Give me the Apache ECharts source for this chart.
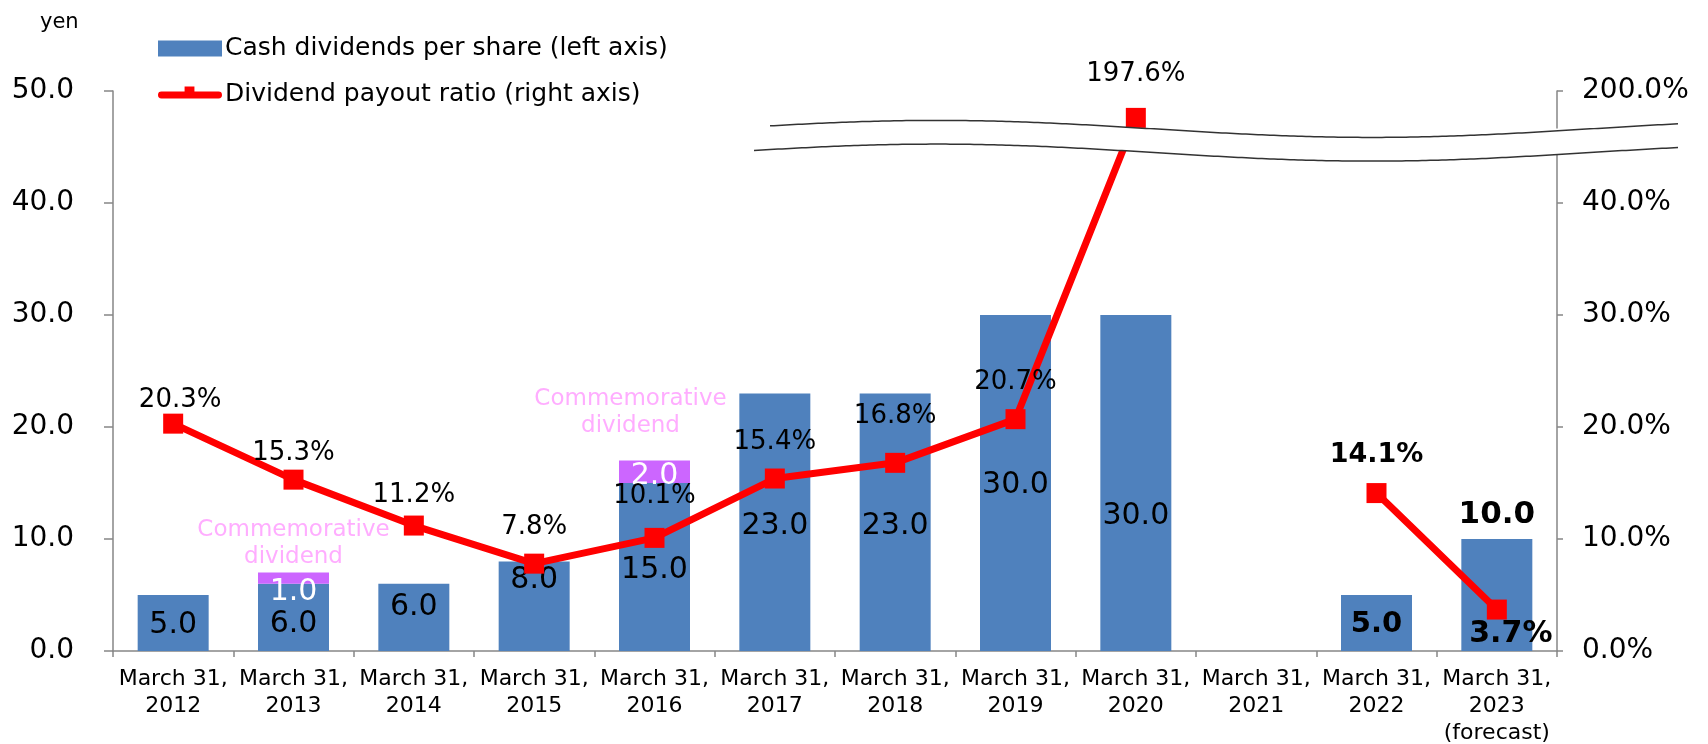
<!DOCTYPE html>
<html><head><meta charset="utf-8">
<script src="https://cdn.jsdelivr.net/npm/echarts@6/dist/echarts.min.js"></script>
<style>html,body{margin:0;padding:0;background:#fff}#c{width:1708px;height:744px}</style>
</head><body><div id="c"></div>
<script>
// ---------- data ----------
const categories = ['March 31,\n2012','March 31,\n2013','March 31,\n2014','March 31,\n2015','March 31,\n2016','March 31,\n2017','March 31,\n2018','March 31,\n2019','March 31,\n2020','March 31,\n2021','March 31,\n2022','March 31,\n2023\n(forecast)'];
const ordinaryDividend = [5.0, 6.0, 6.0, 8.0, 15.0, 23.0, 23.0, 30.0, 30.0, null, 5.0, 10.0];
const commemorativeDividend = [null, 1.0, null, null, 2.0, null, null, null, null, null, null, null];
const payoutRatio = [20.3, 15.3, 11.2, 7.8, 10.1, 15.4, 16.8, 20.7, 197.6, null, 14.1, 3.7];
const leftTicks = [0, 10, 20, 30, 40, 50];
const rightTicks = [0, 10, 20, 30, 40, 200];
const rightBreak = { start: 44.5, end: 196.75, gap: 2.25 };
const barName = 'Cash dividends per share (left axis)';
const lineName = 'Dividend payout ratio (right axis)';
const noteText = 'Commemorative\ndividend';

// ---------- styles ----------
const FONT = 'DejaVu Sans';
const BLUE = '#4F81BD', PURPLE = '#CC66FF', PINK = '#FF99FF', RED = '#FF0000', AXIS = '#868686';
const barLabelDy = {0: 2, 1: 7, 2: -10, 3: -26, 4: 3, 5: 4, 6: 4, 7: 2, 8: 33, 10: 1};
const lineLabelOffset = {0:[7,-23],1:[0,-26],2:[0,-30],3:[0,-36],4:[0,-42],5:[0,-36],6:[0,-47],7:[0,-37],8:[0,-44],10:[0,-38],11:[14,25]};
const purpleLabelDy = {1: 14, 4: 4};
const noteStyle = {1: {offset: [0, 0], distance: 2}, 4: {offset: [-24, 0], distance: 21}};

const blueData = ordinaryDividend.map((v, i) => {
  let label;
  if (i === 11) label = {position: 'top', distance: 9, fontWeight: 'bold', fontSize: 31};
  else if (i === 10) label = {position: 'inside', fontWeight: 'bold', fontSize: 29, offset: [0, barLabelDy[i] || 0]};
  else label = {position: 'inside', offset: [0, barLabelDy[i] || 0]};
  return {value: v, label};
});
const purpleData = commemorativeDividend.map((v, i) => ({value: v, label: {offset: [0, purpleLabelDy[i] || 0]}}));
const noteData = commemorativeDividend.map((v, i) => v == null ? null : {
  value: ordinaryDividend[i] + v,
  label: {offset: noteStyle[i].offset, distance: noteStyle[i].distance}
});
const lineData = payoutRatio.map((v, i) => {
  const label = {offset: lineLabelOffset[i] || [0, -30]};
  if (i === 10) { label.fontWeight = 'bold'; label.fontSize = 27; }
  if (i === 11) { label.fontWeight = 'bold'; label.fontSize = 30; }
  return {value: v, label};
});

const lineIcon = 'path://M0,16L0.01,16L0.01,15.99Z M3.5,5 L27,5 L27,0 L37,0 L37,5 L61.5,5 A3.5,3.5 0 0 1 61.5,12 L3.5,12 A3.5,3.5 0 0 1 3.5,5 Z';

const chart = echarts.init(document.getElementById('c'), null, {renderer: 'canvas'});
const option = {
  backgroundColor: '#fff',
  animation: false,
  textStyle: {fontFamily: FONT, color: '#000'},
  title: {text: 'yen', left: 35, top: 7, textStyle: {fontFamily: FONT, fontSize: 21, fontWeight: 'normal', color: '#000'}},
  legend: {
    data: [{name: barName, icon: 'rect'}, {name: lineName, icon: lineIcon, itemStyle: {color: RED, borderWidth: 0}}],
    orient: 'vertical', left: 158, top: 36, padding: 0,
    itemWidth: 64, itemHeight: 16, itemGap: 21,
    textStyle: {fontFamily: FONT, fontSize: 25, color: '#000', padding: [0, 0, 0, -2]}
  },
  grid: {left: 113, right: 151, top: 91, bottom: 93, containLabel: false, outerBoundsMode: 'none'},
  xAxis: {
    type: 'category', data: categories, boundaryGap: true,
    axisLine: {lineStyle: {color: AXIS, width: 1.5}},
    axisTick: {show: true, length: 6, lineStyle: {color: AXIS, width: 1.5}},
    axisLabel: {fontFamily: FONT, fontSize: 22, color: '#000', lineHeight: 27, margin: 15, interval: 0}
  },
  yAxis: [{
    type: 'value', min: 0, max: 50, interval: 10, splitLine: {show: false},
    axisLine: {show: true, lineStyle: {color: AXIS, width: 1.5}},
    axisTick: {show: true, length: 9, lineStyle: {color: AXIS, width: 1.5}},
    axisLabel: {fontFamily: FONT, fontSize: 28, color: '#000', margin: 39, formatter: v => v.toFixed(1)}
  }, {
    type: 'value', min: 0, max: 200, position: 'right', splitLine: {show: false},
    breaks: [rightBreak],
    breakArea: {show: false},
    axisLine: {show: true, lineStyle: {color: AXIS, width: 1.5}},
    axisTick: {show: true, length: 6, customValues: rightTicks, lineStyle: {color: AXIS, width: 1.5}},
    axisLabel: {fontFamily: FONT, fontSize: 28, color: '#000', margin: 25, customValues: rightTicks, formatter: v => v.toFixed(1) + '%'}
  }],
  series: [{
    name: barName, type: 'bar', stack: 'div', yAxisIndex: 0, barWidth: '59%',
    itemStyle: {color: BLUE}, data: blueData,
    label: {show: true, fontFamily: FONT, fontSize: 30, color: '#000', formatter: p => p.value.toFixed(1)}
  }, {
    name: 'Commemorative dividend', type: 'bar', stack: 'div', yAxisIndex: 0, barWidth: '59%',
    itemStyle: {color: PURPLE}, data: purpleData,
    label: {show: true, position: 'inside', fontFamily: FONT, fontSize: 30, color: '#fff', formatter: p => p.value.toFixed(1)}
  }, {
    name: 'note', type: 'scatter', yAxisIndex: 0, symbol: 'rect', symbolSize: 1,
    itemStyle: {color: 'transparent'}, data: noteData, z: 5,
    label: {show: true, position: 'top', fontFamily: FONT, fontSize: 23, lineHeight: 27, color: PINK, align: 'center', formatter: () => noteText}
  }, {
    name: lineName, type: 'line', yAxisIndex: 1, connectNulls: false,
    symbol: 'rect', symbolSize: 20, lineStyle: {color: RED, width: 7}, itemStyle: {color: RED},
    data: lineData, z: 3,
    label: {show: true, position: 'inside', fontFamily: FONT, fontSize: 26, color: '#000', formatter: p => p.value.toFixed(1) + '%'}
  }]
};
chart.setOption(option);

// break decoration (wavy double line with white band)
const yHigh = chart.convertToPixel({yAxisIndex: 1}, rightBreak.end);
const yLow = chart.convertToPixel({yAxisIndex: 1}, rightBreak.start);
function wave(base, x0, x1) {
  const pts = [];
  for (let x = x0; x <= x1; x += 4) pts.push([x, base - 8.5 * Math.cos(2 * Math.PI * (x - 937) / 870)]);
  return pts;
}
const up = wave(yHigh + 1.5, 770, 1678), lo = wave(yLow, 754, 1678);
chart.setOption({graphic: [
  {type: 'polygon', z: 50, shape: {points: up.concat(lo.slice().reverse())}, style: {fill: '#fff'}},
  {type: 'polyline', z: 51, shape: {points: up}, style: {stroke: '#333', lineWidth: 1.5, fill: null}},
  {type: 'polyline', z: 51, shape: {points: lo}, style: {stroke: '#333', lineWidth: 1.5, fill: null}}
]});
</script></body></html>
